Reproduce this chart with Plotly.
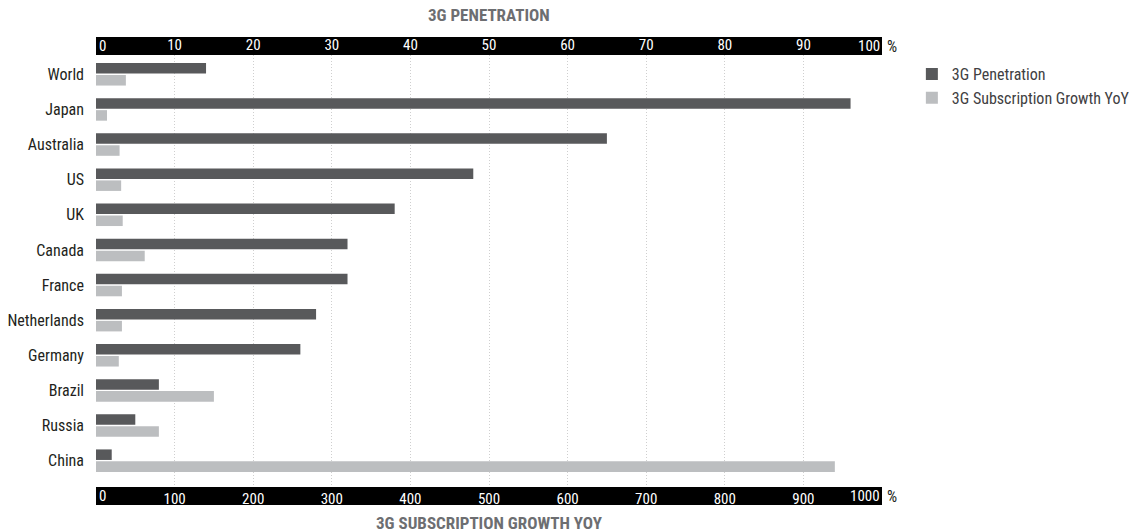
import plotly.graph_objects as go

countries = ["World", "Japan", "Australia", "US", "UK", "Canada", "France",
             "Netherlands", "Germany", "Brazil", "Russia", "China"]
penetration = [14, 96, 65, 48, 38, 32, 32, 28, 26, 8, 5, 2]
growth_yoy = [38, 14, 30, 32, 34, 62, 33, 33, 29, 150, 80, 940]

pen_ticks = list(range(0, 101, 10))
growth_ticks = list(range(0, 1001, 100))

DARK = "#58595b"
LIGHT = "#bcbec0"
FONT = "Roboto Condensed, Roboto, sans-serif"


def inner_labels(ticks):
    # first and last labels are drawn aligned inside the band (see annotations)
    return [""] + [str(t) for t in ticks[1:-1]] + [""]


fig = go.Figure()
fig.add_trace(go.Bar(
    x=penetration, y=countries, orientation="h", name="3G Penetration",
    marker=dict(color=DARK, line=dict(width=0)), xaxis="x2", yaxis="y",
    width=0.3, offset=-0.32, legendgroup="a", hoverinfo="x+y"))
fig.add_trace(go.Bar(
    x=growth_yoy, y=countries, orientation="h", name="3G Subscription Growth YoY",
    marker=dict(color=LIGHT, line=dict(width=0)), xaxis="x", yaxis="y",
    width=0.3, offset=0.02, legendgroup="b", hoverinfo="x+y"))

tick_font = dict(color="white", size=15, family=FONT)

fig.update_layout(
    width=1132, height=532,
    margin=dict(l=96, r=250, t=55, b=45, autoexpand=False),
    paper_bgcolor="white", plot_bgcolor="white",
    font=dict(family=FONT, color="#231f20", size=15),
    showlegend=True,
    legend=dict(x=1.038, y=0.995, xanchor="left", yanchor="top",
                font=dict(size=16, color="#414042"), tracegroupgap=0,
                traceorder="grouped", bgcolor="rgba(0,0,0,0)"),
    xaxis=dict(range=[0, 1000], tickvals=growth_ticks, ticktext=inner_labels(growth_ticks),
               showgrid=True, gridcolor="#cfcfcf", griddash="1px,2px", gridwidth=1,
               zeroline=False, showline=False, ticks="", automargin=False,
               tickfont=tick_font, side="bottom", ticklabelstandoff=1, fixedrange=True),
    xaxis2=dict(range=[0, 100], tickvals=pen_ticks, ticktext=inner_labels(pen_ticks),
                overlaying="x", side="top", automargin=False,
                showgrid=False, zeroline=False, showline=False, ticks="",
                tickfont=tick_font, ticklabelstandoff=1, fixedrange=True),
    yaxis=dict(type="category", categoryarray=countries, range=[11.75, -0.55],
               showgrid=False, zeroline=False, showline=False, ticks="", automargin=False,
               ticklabelstandoff=11, tickfont=dict(size=16, color="#231f20"),
               fixedrange=True),
    shapes=[
        dict(type="rect", xref="paper", yref="paper", x0=0, x1=1,
             ysizemode="pixel", yanchor=1, y0=0, y1=18,
             fillcolor="black", line=dict(width=0), layer="below"),
        dict(type="rect", xref="paper", yref="paper", x0=0, x1=1,
             ysizemode="pixel", yanchor=0, y0=-18, y1=0,
             fillcolor="black", line=dict(width=0), layer="below"),
    ],
)

# first / last tick labels, aligned inside the black axis bands
for axref, ticks, ypos, ysh in (("x2", pen_ticks, 1, 9), ("x", growth_ticks, 0, -9)):
    fig.add_annotation(text=str(ticks[0]), xref=axref, yref="paper", x=ticks[0], y=ypos,
                       xanchor="left", yanchor="middle", xshift=1, yshift=ysh,
                       showarrow=False, font=tick_font)
    fig.add_annotation(text=str(ticks[-1]), xref=axref, yref="paper", x=ticks[-1], y=ypos,
                       xanchor="right", yanchor="middle", xshift=0, yshift=ysh,
                       showarrow=False, font=tick_font)
    fig.add_annotation(text="%", xref="paper", yref="paper", x=1, y=ypos,
                       xanchor="left", yanchor="middle", xshift=3, yshift=ysh,
                       showarrow=False, font=dict(size=16, color="#231f20"))

fig.add_annotation(text="<b>3G PENETRATION</b>", xref="paper", yref="paper", x=0.5, y=1,
                   xanchor="center", yanchor="middle", yshift=40, showarrow=False,
                   font=dict(size=17, color="#6d6e71"))
fig.add_annotation(text="<b>3G SUBSCRIPTION GROWTH YOY</b>", xref="paper", yref="paper",
                   x=0.5, y=0, xanchor="center", yanchor="middle", yshift=-36,
                   showarrow=False, font=dict(size=17, color="#6d6e71"))

fig.write_html("out.html")
